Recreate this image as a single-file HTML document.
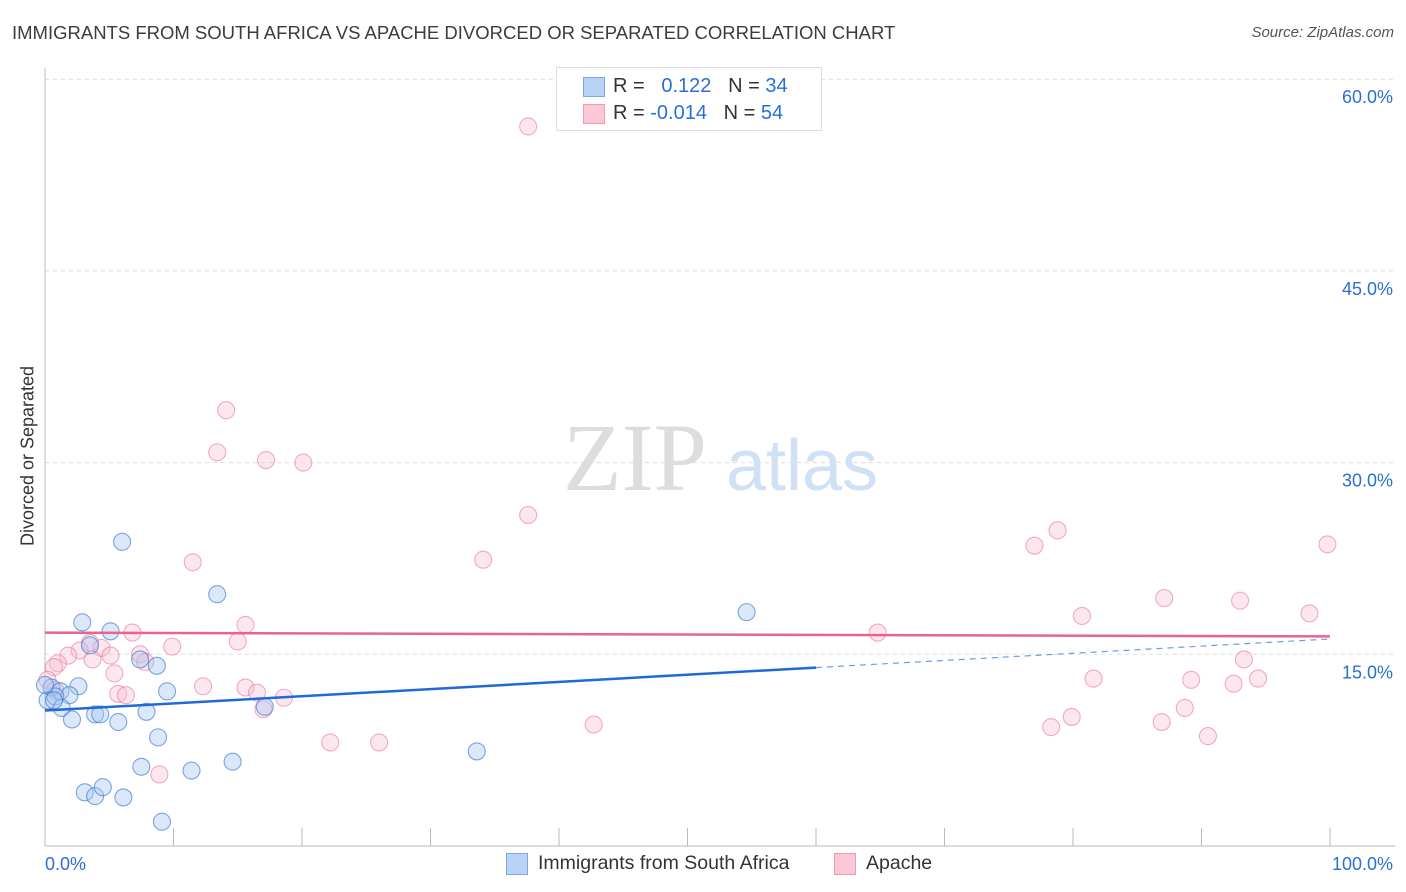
<!DOCTYPE html>
<html><head><meta charset="utf-8"><style>
body{margin:0;background:#fff;font-family:"Liberation Sans",sans-serif;}
#wrap{position:relative;width:1406px;height:892px;overflow:hidden}
.t{position:absolute;white-space:nowrap}
</style></head><body>
<div id="wrap">
<div class="t" style="left:12px;top:22px;font-size:18.5px;color:#3c3c3c">IMMIGRANTS FROM SOUTH AFRICA VS APACHE DIVORCED OR SEPARATED CORRELATION CHART</div>
<div class="t" style="right:12px;top:24px;font-size:15px;color:#555;font-style:italic">Source: ZipAtlas.com</div>
<div class="t" style="left:28px;top:456px;font-size:18px;color:#333;transform:translate(-50%,-50%) rotate(-90deg)">Divorced or Separated</div>
<svg id="plot" width="1406" height="892" style="position:absolute;left:0;top:0"></svg>
<div style="position:absolute;left:556px;top:67px;width:264px;height:62px;border:1px solid #ddd;background:#fff;font-size:20px;color:#333">
 <div style="position:absolute;left:26px;top:9px;width:20px;height:18px;background:#b8d3f5;border:1px solid #7aa7e0"></div>
 <div class="t" style="left:56px;top:7px">R = <span style="color:#2a6fd6">&nbsp;&nbsp;0.122</span>&nbsp;&nbsp;&nbsp;N = <span style="color:#2a6fd6">34</span></div>
 <div style="position:absolute;left:26px;top:36px;width:20px;height:18px;background:#fbc8d6;border:1px solid #f09ab3"></div>
 <div class="t" style="left:56px;top:34px">R = <span style="color:#2a6fd6">-0.014</span>&nbsp;&nbsp;&nbsp;N = <span style="color:#2a6fd6">54</span></div>
</div>
<div style="position:absolute;left:506px;top:852px;font-size:19.5px;color:#333">
 <div style="position:absolute;left:0;top:1px;width:20px;height:20px;background:#b8d3f5;border:1px solid #7aa7e0"></div>
 <div class="t" style="left:32px;top:0">Immigrants from South Africa</div>
 <div style="position:absolute;left:328px;top:1px;width:20px;height:20px;background:#fbc8d6;border:1px solid #f09ab3"></div>
 <div class="t" style="left:360px;top:0">Apache</div>
</div>
</div>
<script>
const blueX=[6.0,13.4,54.6,2.9,5.1,3.5,7.4,8.7,0.5,2.6,1.2,1.9,0.2,0.8,9.5,1.3,2.1,3.9,4.3,5.7,7.9,17.1,8.8,33.6,7.5,11.4,14.6,3.1,3.9,4.5,6.1,9.1,0.7,0.0];
const blueY=[23.8,19.7,18.3,17.5,16.8,15.7,14.6,14.1,12.4,12.5,12.1,11.8,11.4,11.7,12.1,10.8,9.9,10.3,10.3,9.7,10.5,10.9,8.5,7.4,6.2,5.9,6.6,4.2,3.9,4.6,3.8,1.9,11.4,12.6];
const pinkX=[37.6,14.1,13.4,17.2,20.1,37.6,78.8,77.0,99.8,11.5,34.1,87.1,93.0,98.4,80.7,15.6,64.8,6.8,15.0,9.9,3.5,4.4,2.7,1.8,1.0,0.7,5.1,7.4,7.8,3.7,5.4,93.3,81.6,89.2,94.4,92.5,12.3,15.6,16.5,18.6,5.7,6.3,17.0,79.9,78.3,88.7,86.9,42.7,22.2,26.0,90.5,8.9,0.2,0.8];
const pinkY=[56.3,34.1,30.8,30.2,30.0,25.9,24.7,23.5,23.6,22.2,22.4,19.4,19.2,18.2,18.0,17.3,16.7,16.7,16.0,15.6,15.9,15.5,15.3,14.9,14.3,14.0,14.9,15.0,14.4,14.6,13.5,14.6,13.1,13.0,13.1,12.7,12.5,12.4,12.0,11.6,11.9,11.8,10.7,10.1,9.3,10.8,9.7,9.5,8.1,8.1,8.6,5.6,13.0,12.2];
const blueTrend=[10.6,0.056]; // intercept, slope
const pinkTrend=[16.7,-0.003];
const yTicks=[15,30,45,60];
const yTickLabels=["15.0%","30.0%","45.0%","60.0%"];
const xTicks=[0,10,20,30,40,50,60,70,80,90,100];

const X0=45,X1=1330,Y0=846,YS=12.78;
const sx=v=>X0+(X1-X0)*v/100, sy=v=>Y0-v*YS;
const svg=document.getElementById('plot'),NS='http://www.w3.org/2000/svg';
function mk(t,a,p){const e=document.createElementNS(NS,t);for(const k in a)e.setAttribute(k,a[k]);(p||svg).appendChild(e);return e;}

yTicks.forEach((v,i)=>{
 const g=mk('line',{x1:X0,x2:1395,y1:sy(v),y2:sy(v),stroke:'#ddd','stroke-dasharray':'4,4'});
 
 
 const t=mk('text',{x:1393,y:sy(v)+24,'text-anchor':'end','font-size':18,fill:'#2a6fd6','font-family':'Liberation Sans,sans-serif'});
 t.textContent=yTickLabels[i];
 
 
});
const ax=mk('line',{x1:X0,x2:X0,y1:68,y2:846,stroke:'#bbb'});


const bx=mk('line',{x1:X0,x2:1395,y1:846,y2:846,stroke:'#bbb'});


xTicks.forEach(v=>{
 const l=mk('line',{x1:sx(v),x2:sx(v),y1:828,y2:846,stroke:'#bbb'});
 
 
});
[['0.0%',X0,'start'],['100.0%',1393,'end']].forEach(d=>{
 const t=mk('text',{x:d[1],y:870,'text-anchor':d[2],'font-size':18,fill:'#2a6fd6','font-family':'Liberation Sans,sans-serif'});
 t.textContent=d[0];
 
 
});
const w1=mk('text',{x:635,y:490,'text-anchor':'middle','font-size':96,fill:'#ddd','font-family':'Liberation Serif,serif'});
w1.textContent='ZIP';


const w2=mk('text',{x:802,y:490,'text-anchor':'middle','font-size':72,fill:'#d0e0f5','font-family':'Liberation Sans,sans-serif'});
w2.textContent='atlas';



pinkX.forEach((x,i)=>{
 const c=mk('circle',{cx:sx(x),cy:sy(pinkY[i]),r:8.5,fill:'rgba(248,185,205,0.35)',stroke:'rgba(232,120,155,0.6)','stroke-width':1.1});
 
 
});
blueX.forEach((x,i)=>{
 const c=mk('circle',{cx:sx(x),cy:sy(blueY[i]),r:8.5,fill:'rgba(165,198,240,0.4)',stroke:'rgba(60,120,210,0.65)','stroke-width':1.1});
 
 
});
const f=(t,x)=>t[0]+t[1]*x;
const bl=mk('line',{x1:sx(0),y1:sy(f(blueTrend,0)),x2:sx(60),y2:sy(f(blueTrend,60)),stroke:'#1f6ad6','stroke-width':2.5});


const bd=mk('line',{x1:sx(60),y1:sy(f(blueTrend,60)),x2:sx(100),y2:sy(f(blueTrend,100)),stroke:'#6a9ee0','stroke-width':1.2,'stroke-dasharray':'6,5'});


const pl=mk('line',{x1:sx(0),y1:sy(f(pinkTrend,0)),x2:sx(100),y2:sy(f(pinkTrend,100)),stroke:'#e8638e','stroke-width':2.5});


</script>
</body></html>
